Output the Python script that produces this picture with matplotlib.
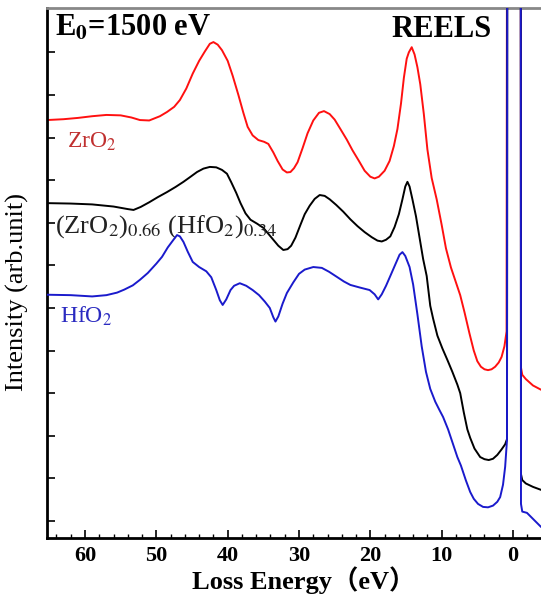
import numpy as np
import matplotlib
matplotlib.use("Agg")
import matplotlib.pyplot as plt
from matplotlib.ticker import MultipleLocator

plt.rcParams['font.family'] = ['Liberation Serif', 'Noto Sans CJK SC']
plt.rcParams['mathtext.fontset'] = 'stix'

# Loss energy (eV) and intensity (arb. units).
# The near-vertical pair around 0 eV is the elastic peak, which runs off the top.
zro2_e = [65.33, 63, 61, 59, 57, 55, 53.5, 52.3, 51, 49.5,
          48.5, 47.5, 46.7, 45.8, 44.9, 44, 43.2, 42.5, 42.0, 41.4,
          40.8, 40.0, 39.3, 38.5, 37.8, 37.2, 36.5, 35.7, 34.9, 34.3,
          33.6, 33.0, 32.3, 31.7, 31.2, 30.7, 30.2, 29.5, 28.8, 28.0,
          27.2, 26.5, 25.7, 25.0, 24.2, 23.3, 22.5, 21.6, 20.8, 20.0,
          19.4, 18.8, 18.0, 17.3, 16.7, 16.2, 15.7, 15.3, 14.9, 14.6,
          14.2, 13.8, 13.4, 13.0, 12.5, 12.0, 11.4, 10.7, 10.0, 9.4,
          8.7, 8.0, 7.4, 6.8, 6.1, 5.5, 5.0, 4.5, 4.0, 3.5,
          3.0, 2.5, 2.0, 1.6, 1.2, 0.9, 0.75, -1.05, -1.12, -1.3,
          -1.8, -2.8, -3.93, -6.5]
zro2_i = [9.41, 9.43, 9.46, 9.50, 9.53, 9.52, 9.47, 9.41, 9.40, 9.50,
          9.60, 9.72, 9.88, 10.15, 10.50, 10.80, 11.02, 11.20, 11.24, 11.18,
          11.05, 10.80, 10.45, 10.00, 9.58, 9.25, 9.05, 8.94, 8.90, 8.85,
          8.65, 8.45, 8.25, 8.18, 8.19, 8.28, 8.42, 8.75, 9.10, 9.40,
          9.58, 9.62, 9.55, 9.42, 9.20, 8.95, 8.70, 8.45, 8.22, 8.08,
          8.04, 8.08, 8.22, 8.45, 8.80, 9.20, 9.80, 10.40, 10.85, 11.00,
          11.12, 10.95, 10.65, 10.25, 9.55, 8.72, 8.05, 7.55, 6.95, 6.40,
          5.95, 5.60, 5.30, 4.90, 4.40, 4.00, 3.75, 3.62, 3.56, 3.54,
          3.56, 3.62, 3.72, 3.85, 4.10, 4.45, 30.0, 30.0, 3.60, 3.43,
          3.33, 3.18, 3.08, 2.95]

mix_e = [65.33, 62, 59, 56, 54, 53.2, 52.2, 51, 49.8, 48.5,
         47.3, 46.2, 45.2, 44.3, 43.4, 42.5, 41.6, 40.8, 40.1, 39.5,
         38.8, 38.2, 37.5, 36.8, 35.9, 35.0, 34.3, 33.6, 32.9, 32.2,
         31.6, 31.1, 30.5, 29.8, 29.2, 28.5, 27.8, 27.1, 26.4, 25.7,
         24.8, 23.8, 22.8, 21.8, 20.8, 19.8, 19.0, 18.4, 17.8, 17.2,
         16.6, 16.0, 15.5, 15.1, 14.8, 14.5, 14.1, 13.6, 13.1, 12.6,
         12.1, 11.6, 11.2, 10.6, 9.9, 9.2, 8.5, 7.8, 7.4, 6.9,
         6.4, 6.0, 5.4, 4.6, 4.0, 3.4, 2.8, 2.2, 1.6, 1.1,
         0.84, 0.75, -1.05, -1.12, -1.3, -1.8, -2.8, -3.93, -6.5]
mix_i = [7.46, 7.45, 7.43, 7.38, 7.32, 7.30, 7.37, 7.48, 7.60, 7.72,
         7.84, 7.96, 8.08, 8.19, 8.27, 8.31, 8.30, 8.24, 8.15, 7.95,
         7.70, 7.46, 7.22, 7.07, 6.98, 6.88, 6.74, 6.60, 6.46, 6.36,
         6.38, 6.46, 6.65, 6.95, 7.20, 7.40, 7.56, 7.65, 7.63, 7.55,
         7.42, 7.26, 7.08, 6.92, 6.78, 6.66, 6.58, 6.56, 6.60, 6.68,
         6.90, 7.20, 7.55, 7.85, 7.96, 7.85, 7.55, 7.15, 6.65, 6.15,
         5.75, 5.05, 4.75, 4.35, 4.05, 3.78, 3.50, 3.20, 3.00, 2.55,
         2.15, 1.95, 1.70, 1.50, 1.45, 1.43, 1.46, 1.55, 1.68, 1.80,
         1.92, 30.0, 30.0, 1.10, 0.96, 0.88, 0.80, 0.73, 0.65]

hfo2_e = [65.33, 62, 59, 57, 55.5, 54.5, 53.3, 52.3, 51.2, 50.0,
          49.2, 48.4, 47.6, 47.1, 46.7, 46.2, 45.6, 44.9, 44.0, 43.0,
          42.3, 41.6, 41.1, 40.7, 40.2, 39.6, 39.1, 38.3, 37.4, 36.5,
          35.6, 34.8, 34.1, 33.6, 33.3, 32.9, 32.3, 31.7, 30.8, 30.0,
          29.2, 28.0, 26.8, 25.8, 24.7, 23.7, 22.8, 21.5, 20.1, 19.4,
          18.9, 18.4, 17.8, 17.2, 16.5, 15.9, 15.5, 15.1, 14.5, 14.0,
          13.4, 12.8, 12.2, 11.6, 10.9, 10.3, 9.8, 9.1, 8.4, 7.8,
          7.3, 6.6, 6.0, 5.5, 4.9, 4.2, 3.5, 2.8, 2.2, 1.8,
          1.4, 1.1, 0.84, 0.75, -1.05, -1.12, -1.3, -1.96, -3.93, -6.5]
hfo2_i = [5.31, 5.30, 5.27, 5.30, 5.36, 5.43, 5.53, 5.66, 5.82, 6.04,
          6.20, 6.42, 6.60, 6.71, 6.68, 6.55, 6.32, 6.08, 5.96, 5.86,
          5.72, 5.42, 5.18, 5.07, 5.20, 5.42, 5.52, 5.58, 5.52, 5.42,
          5.30, 5.15, 5.00, 4.78, 4.68, 4.80, 5.10, 5.35, 5.60, 5.80,
          5.90, 5.96, 5.94, 5.85, 5.73, 5.62, 5.54, 5.48, 5.42, 5.32,
          5.20, 5.32, 5.52, 5.75, 6.02, 6.25, 6.31, 6.22, 5.96, 5.55,
          4.85, 4.10, 3.50, 3.10, 2.80, 2.60, 2.44, 2.15, 1.80, 1.50,
          1.30, 0.95, 0.68, 0.52, 0.40, 0.33, 0.32, 0.36, 0.45, 0.56,
          0.85, 1.27, 1.90, 30.0, 30.0, 0.40, 0.22, 0.19, -0.14, -0.25]

fig = plt.figure(figsize=(5.41, 5.99), dpi=100)
ax = fig.add_axes([47/541, 61/599, 513/541, 530/599])

ax.plot(zro2_e, zro2_i, color='#ff1010', lw=1.4, zorder=2)
ax.plot(mix_e, mix_i, color='black', lw=1.4, zorder=3)
ax.plot(hfo2_e, hfo2_i, color='#1a1acc', lw=1.4, zorder=4)

ax.set_xlim(65.33, -6.59)
ax.set_ylim(-0.40, 12.04)

ax.xaxis.set_major_locator(MultipleLocator(10))
ax.xaxis.set_minor_locator(MultipleLocator(2))
ax.set_yticks(np.arange(0, 12))
ax.set_yticklabels([])
ax.tick_params(axis='x', which='major', direction='in', length=6, width=1.2,
               labelsize=16, pad=6)
ax.tick_params(axis='x', which='minor', direction='in', length=3, width=1)
ax.tick_params(axis='y', which='major', direction='in', length=6, width=1.2)
for lab in ax.get_xticklabels():
    lab.set_fontweight('bold')

ax.spines['left'].set_linewidth(2)
ax.spines['bottom'].set_linewidth(2)
ax.spines['top'].set_linewidth(2)
ax.spines['top'].set_color('#888888')
ax.spines['right'].set_visible(False)

ax.set_xlabel('Loss Energy（eV）', fontsize=19, fontweight='bold', labelpad=0)
ax.set_ylabel('Intensity (arb.unit)', fontsize=19)
ax.yaxis.set_label_coords(-0.035, 0.465)

ax.text(0.016, 0.947, 'E$_\\mathbf{0}$=1500 eV', transform=ax.transAxes,
        fontsize=22, fontweight='bold', va='baseline', ha='left')
ax.text(0.867, 0.945, 'REELS', transform=ax.transAxes,
        fontsize=22, fontweight='bold', va='baseline', ha='right')
ax.text(0.039, 0.736, 'ZrO$_2$', transform=ax.transAxes, color='#c0302f',
        fontsize=17, va='baseline', ha='left')
ax.text(0.016, 0.577, '(ZrO$_2$)$_{0.66}$ (HfO$_2$)$_{0.34}$',
        transform=ax.transAxes, color='#222222', fontsize=19,
        va='baseline', ha='left')
ax.text(0.025, 0.406, 'HfO$_2$', transform=ax.transAxes, color='#2a2ac0',
        fontsize=17, va='baseline', ha='left')

fig.savefig('out.png', dpi=100)
